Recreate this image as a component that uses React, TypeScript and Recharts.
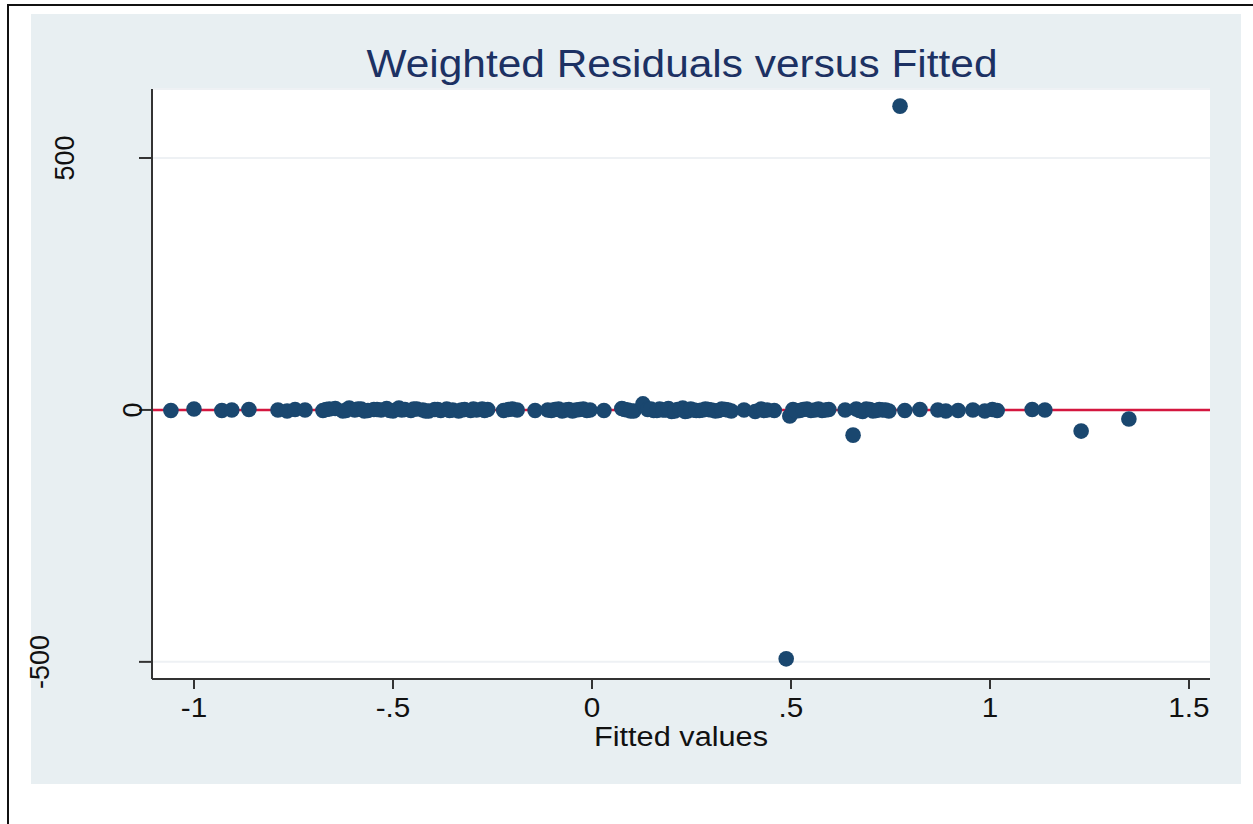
import React from 'react';
import { ScatterChart, Scatter, XAxis, YAxis, CartesianGrid, ReferenceLine } from 'recharts';

const fittedValues: number[] = [
  -1.058, -1.0, -0.93, -0.905, -0.862, -0.789, -0.766, -0.746, -0.721, -0.676,
  -0.66, -0.645, -0.626, -0.61, -0.596, -0.58, -0.563, -0.548, -0.53, -0.516,
  -0.5, -0.485, -0.47, -0.455, -0.44, -0.425, -0.41, -0.395, -0.38, -0.365,
  -0.35, -0.335, -0.32, -0.305, -0.29, -0.276, -0.262, -0.222, -0.2, -0.188,
  -0.143, -0.111, -0.093, -0.075, -0.058, -0.04, -0.022, -0.005, 0.03, 0.075,
  0.09, 0.105, 0.128, 0.14, 0.155, 0.17, 0.185, 0.2, 0.215, 0.228,
  0.24, 0.255, 0.27, 0.285, 0.3, 0.318, 0.335, 0.35, 0.382, 0.41,
  0.425, 0.44, 0.458, 0.488, 0.497, 0.505, 0.522, 0.54, 0.56, 0.578,
  0.595, 0.636, 0.656, 0.664, 0.68, 0.698, 0.714, 0.73, 0.746, 0.774,
  0.786, 0.824, 0.869, 0.889, 0.92, 0.957, 0.987, 1.006, 1.018, 1.106,
  1.138, 1.229, 1.349,
  -0.668, -0.618, -0.588, -0.572, -0.54, -0.508, -0.478, -0.448, -0.418, -0.388,
  -0.358, -0.328, -0.298, -0.27, -0.21, -0.102, -0.084, -0.066, -0.049, -0.031,
  -0.013, 0.082, 0.097, 0.148, 0.163, 0.178, 0.192, 0.208, 0.222, 0.234,
  0.248, 0.262, 0.278, 0.292, 0.31, 0.326, 0.342, 0.432, 0.513, 0.531,
  0.55, 0.569, 0.587, 0.672, 0.689, 0.706, 0.722, 0.738,
];

const weightedResiduals: number[] = [
  -1, 2, -1, 0, 1, 0, -2, 1, 0, -1,
  2, 3, -2, 4, 0, 2, -1, 1, 0, 3,
  -2, 4, 1, -1, 2, 0, -2, 1, -1, 2,
  0, -2, 1, -1, 0, 2, 1, -1, 2, 0,
  -1, 0, 1, -2, 1, 0, 2, 0, -1, 3,
  0, -2, 12, 1, -1, 2, 0, -3, 1, 4,
  -2, 0, -1, 2, 0, -1, 1, -2, 0, -3,
  2, 0, -1, -494, -12, 1, -1, 2, 0, -1,
  1, 0, -50, 2, -3, 1, -1, 0, -2, 603,
  -1, 1, 0, -2, -1, 0, -2, 1, -1, 1,
  0, -42, -18,
  1, -1, 2, -2, 1, -1, 0, 2, -2, 1,
  -1, 0, 2, -1, 1, -1, 2, 0, -2, 1,
  -1, 1, -2, 2, -1, 0, 3, -2, 1, -3,
  2, -1, 0, 1, -2, 2, 0, -1, -2, 1,
  -1, 2, 0, -1, 2, -2, 1, 0,
];

const xTicks: number[] = [-1, -0.5, 0, 0.5, 1, 1.5];
const xTickLabels: string[] = ['-1', '-.5', '0', '.5', '1', '1.5'];
const yTicks: number[] = [-500, 0, 500];
const yTickLabels: string[] = ['-500', '0', '500'];

const title = 'Weighted Residuals versus Fitted';
const xTitle = 'Fitted values';

const data = fittedValues.map((x, i) => ({ x, y: weightedResiduals[i] }));

const FONT = '"Liberation Sans", Arial, Helvetica, sans-serif';
const MARKER = '#1a476f';

const XTick = (props: any) => {
  const { x, y, payload } = props;
  const idx = xTicks.indexOf(payload.value);
  const label = idx >= 0 ? xTickLabels[idx] : String(payload.value);
  return (
    <text
      x={x}
      y={y + 26}
      textAnchor="middle"
      fontFamily={FONT}
      fontSize={27}
      fill="#111"
      transform={`translate(${x},0) scale(1.1,1) translate(${-x},0)`}
    >
      {label}
    </text>
  );
};

const yLabelShift: Record<string, number> = { '500': 74, '0': 6, '-500': 99 };

const YTick = (props: any) => {
  const { x, y, payload } = props;
  const idx = yTicks.indexOf(payload.value);
  const label = idx >= 0 ? yTickLabels[idx] : String(payload.value);
  const cx = x + 2 - (yLabelShift[label] ?? 20);
  return (
    <text
      x={cx}
      y={y}
      transform={`rotate(-90, ${cx}, ${y})`}
      textAnchor="middle"
      dominantBaseline="central"
      fontFamily={FONT}
      fontSize={27}
      fill="#111"
    >
      {label}
    </text>
  );
};

const Dot = (props: any) => {
  const { cx, cy } = props;
  if (cx == null || cy == null) return null;
  return <circle cx={cx} cy={cy} r={7.8} fill={MARKER} />;
};

export default function App() {
  return (
    <div style={{ position: 'absolute', left: 0, top: 0, width: 1253, height: 824, background: '#fff', overflow: 'hidden' }}>
      <div style={{ position: 'absolute', left: 7, top: 4, width: 1300, height: 900, borderLeft: '2px solid #111', borderTop: '2px solid #111' }} />
      <div style={{ position: 'absolute', left: 31, top: 14, width: 1210, height: 770, background: '#e8eff2' }} />
      <svg style={{ position: 'absolute', left: 0, top: 0 }} width={1253} height={100}>
        <text
          x={682}
          y={77}
          textAnchor="middle"
          fontFamily={FONT}
          fontSize={38}
          fill="#1c3163"
          textLength={631}
          lengthAdjust="spacingAndGlyphs"
        >
          {title}
        </text>
      </svg>
      <div style={{ position: 'absolute', left: 0, top: 0 }}>
        <ScatterChart width={1253} height={824} margin={{ top: 89, right: 43, bottom: 85, left: 52 }}>
          <CartesianGrid fill="#ffffff" fillOpacity={1} vertical={false} stroke="#eef1f4" strokeWidth={2} />
          <XAxis
            type="number"
            dataKey="x"
            domain={[-1.1055, 1.5528]}
            ticks={xTicks}
            allowDataOverflow
            height={60}
            tickSize={10}
            axisLine={{ stroke: '#333', strokeWidth: 2 }}
            tickLine={{ stroke: '#333', strokeWidth: 2 }}
            tick={<XTick />}
            interval={0}
            label={{
              content: (p: any) => {
                const vb = p.viewBox || { x: 152, y: 679, width: 1058 };
                return (
                  <text
                    x={vb.x + vb.width / 2}
                    y={vb.y + 67}
                    textAnchor="middle"
                    fontFamily={FONT}
                    fontSize={27}
                    fill="#111"
                    textLength={174}
                    lengthAdjust="spacingAndGlyphs"
                  >
                    {xTitle}
                  </text>
                );
              },
            }}
          />
          <YAxis
            type="number"
            dataKey="y"
            domain={[-534, 637]}
            ticks={yTicks}
            allowDataOverflow
            width={100}
            tickSize={13}
            axisLine={{ stroke: '#333', strokeWidth: 2 }}
            tickLine={{ stroke: '#333', strokeWidth: 2 }}
            tick={<YTick />}
            interval={0}
          />
          <ReferenceLine y={0} stroke="#d4173f" strokeWidth={2.5} />
          <Scatter data={data} fill={MARKER} shape={<Dot />} isAnimationActive={false} />
        </ScatterChart>
      </div>
    </div>
  );
}
